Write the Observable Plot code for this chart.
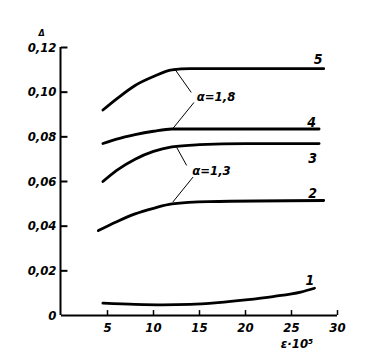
<!DOCTYPE html>
<html><head><meta charset="utf-8">
<script src="https://cdn.jsdelivr.net/npm/d3@7"></script>
<script src="https://cdn.jsdelivr.net/npm/@observablehq/plot@0.6"></script>
<style>
body{margin:0;background:#fff;}
svg text{font-family:"DejaVu Sans Condensed","Liberation Sans Narrow",sans-serif;font-stretch:condensed;font-style:italic;font-weight:bold;}
</style></head>
<body><div id="chart"></div>
<script>
// curve data (ε·10^5, Δ)
const c1x = [4.5, 8, 11, 14, 17, 20, 23, 26, 27.5];
const c1y = [0.0055, 0.005, 0.0048, 0.005, 0.0058, 0.007, 0.0085, 0.0105, 0.0122];
const c2x = [4, 6, 8, 10, 12, 16, 28.5];
const c2y = [0.038, 0.042, 0.0455, 0.048, 0.050, 0.051, 0.0515];
const c3x = [4.5, 6, 8, 10, 12, 15, 20, 28];
const c3y = [0.060, 0.065, 0.070, 0.0735, 0.0755, 0.0765, 0.077, 0.077];
const c4x = [4.5, 6, 8, 10, 12, 28];
const c4y = [0.077, 0.079, 0.081, 0.0825, 0.0835, 0.0835];
const c5x = [4.5, 6, 8, 10, 12, 14, 20, 28.5];
const c5y = [0.092, 0.097, 0.103, 0.107, 0.110, 0.1105, 0.1105, 0.1105];
const curveNames = ["1", "2", "3", "4", "5"];
const xTicks = [5, 10, 15, 20, 25, 30];
const yTicks = [0, 0.02, 0.04, 0.06, 0.08, 0.10, 0.12];
const yTickLabels = ["0", "0,02", "0,04", "0,06", "0,08", "0,10", "0,12"];
// curve number labels positions (x, y) in data units
const nameX = [27, 27.3, 27.3, 27.2, 27.9];
const nameY = [0.0155, 0.0545, 0.0705, 0.0865, 0.1145];
// alpha annotations
const alphaText = ["α=1,8", "α=1,3"];
const alphaX = [16.8, 16.3];
const alphaY = [0.0981, 0.065];
// leader lines [x1,y1,x2,y2]
const leaders = [
  [12.25, 0.1107, 14.1, 0.0999],
  [14.4, 0.0954, 12.1, 0.0837],
  [12.5, 0.0754, 13.6, 0.0672],
  [14.3, 0.062, 12.1, 0.0508]
];

const xs = [c1x, c2x, c3x, c4x, c5x];
const ys = [c1y, c2y, c3y, c4y, c5y];
const pts = [];
xs.forEach((arr, i) => arr.forEach((x, j) => pts.push({curve: curveNames[i], x, y: ys[i][j]})));
const names = curveNames.map((n, i) => ({n, x: nameX[i], y: nameY[i]}));
const alphas = alphaText.map((t, i) => ({t, x: alphaX[i], y: alphaY[i]}));
const lead = leaders.map(([x1, y1, x2, y2]) => ({x1, y1, x2, y2}));

const chart = Plot.plot({
  width: 366, height: 363,
  marginLeft: 61, marginRight: 29, marginTop: 47, marginBottom: 48,
  x: {domain: [0, 30], axis: null},
  y: {domain: [0, 0.12], axis: null},
  marks: [
    Plot.ruleX([0], {y1: 0, y2: 0.12, strokeWidth: 2, dx: -1}),
    Plot.ruleY([0], {x1: 0, x2: 30, strokeWidth: 2}),
    Plot.ruleY(yTicks.slice(1), {x1: 0, x2: 0.7, strokeWidth: 2}),
    Plot.ruleX(xTicks, {y1: 0, y2: 0.0022, strokeWidth: 1.5}),
    Plot.text(yTicks.map((v, i) => ({v, l: yTickLabels[i]})), {x: 0, y: "v", text: "l", textAnchor: "end", dx: -5, fontSize: 13}),
    Plot.text(xTicks, {x: d => d, y: 0, text: d => String(d), dy: 12, fontSize: 13}),
    Plot.text(["Δ"], {frameAnchor: "top-left", dx: -23, dy: -18, fontSize: 9}),
    Plot.text(["ε·10⁵"], {x: 25.6, y: 0, dy: 28, fontSize: 13}),
    Plot.line(pts, {x: "x", y: "y", z: "curve", curve: "monotone-x", strokeWidth: 2.8, stroke: "black"}),
    Plot.link(lead, {x1: "x1", y1: "y1", x2: "x2", y2: "y2", strokeWidth: 1, stroke: "black"}),
    Plot.text(alphas, {x: "x", y: "y", text: "t", fontSize: 13}),
    Plot.text(names, {x: "x", y: "y", text: "n", fontSize: 14})
  ]
});
document.getElementById("chart").append(chart);
</script></body></html>
